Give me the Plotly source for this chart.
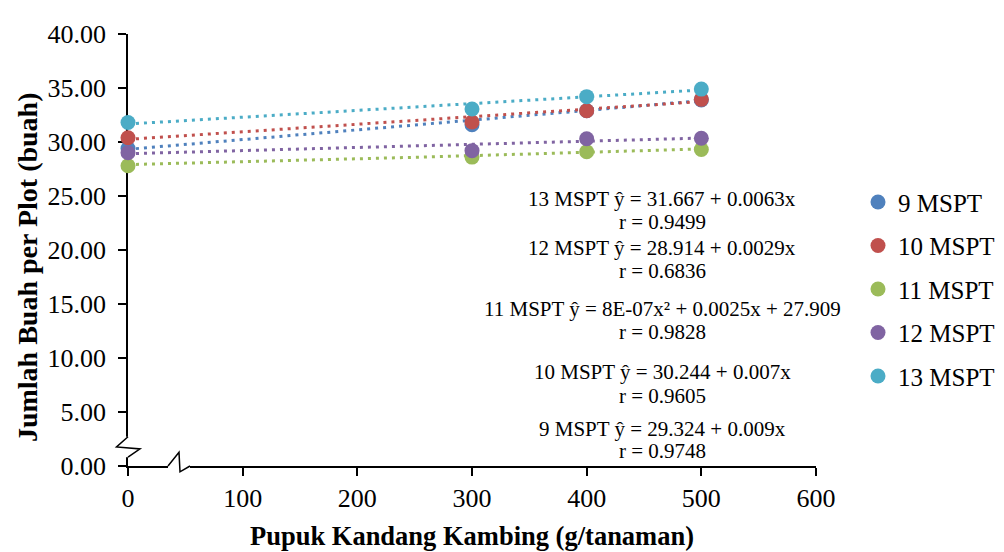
import numpy as np
import plotly.graph_objects as go

# ---- data ----
dosis = [0, 300, 400, 500]
series_names = ["9 MSPT", "10 MSPT", "11 MSPT", "12 MSPT", "13 MSPT"]
y_9 = [29.4, 31.6, 32.9, 33.9]
y_10 = [30.4, 31.85, 32.9, 33.95]
y_11 = [27.8, 28.6, 29.1, 29.3]
y_12 = [29.0, 29.2, 30.3, 30.35]
y_13 = [31.8, 33.05, 34.2, 34.9]
series_values = [y_9, y_10, y_11, y_12, y_13]
colors = ["#4F81BD", "#C0504D", "#9BBB59", "#8064A2", "#4BACC6"]

# trendline coefficients [a2, a1, a0]  (y = a2 x^2 + a1 x + a0)
coef_9 = [0.0, 0.009, 29.324]
coef_10 = [0.0, 0.007, 30.244]
coef_11 = [8e-07, 0.0025, 27.909]
coef_12 = [0.0, 0.0029, 28.914]
coef_13 = [0.0, 0.0063, 31.667]
coefs = [coef_9, coef_10, coef_11, coef_12, coef_13]

eq_lines = [
    "13 MSPT ŷ = 31.667 + 0.0063x", "r = 0.9499",
    "12 MSPT ŷ = 28.914 + 0.0029x", "r = 0.6836",
    "11 MSPT ŷ = 8E-07x² + 0.0025x + 27.909", "r = 0.9828",
    "10 MSPT ŷ = 30.244 + 0.007x", "r = 0.9605",
    "9 MSPT ŷ = 29.324 + 0.009x", "r = 0.9748",
]
eq_ypx = [192, 216, 242, 266, 305, 329, 370, 394, 428, 451]

x_ticks = [0, 100, 200, 300, 400, 500, 600]
y_ticks = [0, 5, 10, 15, 20, 25, 30, 35, 40]

FONT = "Liberation Serif, Times New Roman, serif"

# page offset (browser body margin) and plot-area geometry in page pixels
OFF = 8
W, H = 1004, 552
PL, PR, PT, PB = 128, 816, 23, 466          # plot area in page pixels
L, T = PL - OFF, PT - OFF
R, B = W - (PR - OFF), H - (PB - OFF)
PW, PH = PR - PL, PB - PT


def px2paper(px, py):
    return (px - PL) / PW, (PB - py) / PH


fig = go.Figure()

# trendlines
xs = np.linspace(min(dosis), max(dosis), 101)
for name, c, col in zip(series_names, coefs, colors):
    ys = c[0] * xs ** 2 + c[1] * xs + c[2]
    fig.add_trace(go.Scatter(
        x=xs, y=ys, mode="lines", showlegend=False, hoverinfo="skip",
        line=dict(color=col, width=3, dash="3px,5px"), cliponaxis=False,
    ))

# markers
for i, (name, vals, col) in enumerate(zip(series_names, series_values, colors)):
    fig.add_trace(go.Scatter(
        x=dosis, y=vals, mode="markers", name=name, legendgroup=f"g{i}",
        marker=dict(color=col, size=15), cliponaxis=False,
    ))

# equation annotations
ann = []
ax_c, _ = px2paper(662, 0)
for txt, ypx in zip(eq_lines, eq_ypx):
    _, yp = px2paper(0, ypx)
    ann.append(dict(text=txt, x=ax_c, y=yp, xref="paper", yref="paper",
                    xanchor="center", yanchor="middle", showarrow=False,
                    font=dict(family=FONT, size=21, color="black")))

# axis titles
tx, ty = px2paper(472, 538)
ann.append(dict(text="<b>Pupuk Kandang Kambing (g/tanaman)</b>", x=tx, y=ty,
                xref="paper", yref="paper", xanchor="center", yanchor="middle",
                showarrow=False, font=dict(family=FONT, size=26.5, color="black")))
tx, ty = px2paper(27, 262)
ann.append(dict(text="<b>Jumlah Buah per Plot (buah)</b>", x=tx, y=ty, textangle=-90,
                xref="paper", yref="paper", xanchor="center", yanchor="middle",
                showarrow=False, font=dict(family=FONT, size=28, color="black")))

# axis breaks (decorations)
shapes = []
_, y_top = px2paper(128, 436)
_, y_bot = px2paper(128, 457)
shapes.append(dict(type="rect", xref="paper", yref="paper", x0=-0.006, x1=0.006,
                   y0=y_bot, y1=y_top, fillcolor="white", line=dict(width=0),
                   layer="above"))
pts = [px2paper(128, 436), px2paper(116.5, 446.5), px2paper(140, 448.5),
       px2paper(128, 457)]
path = "M " + " L ".join(f"{a},{b}" for a, b in pts)
shapes.append(dict(type="path", xref="paper", yref="paper", path=path,
                   line=dict(color="black", width=1.5), layer="above"))
xa, _ = px2paper(168, 0)
xb, _ = px2paper(190, 0)
shapes.append(dict(type="rect", xref="paper", yref="paper", x0=xa, x1=xb,
                   y0=-0.008, y1=0.008, fillcolor="white", line=dict(width=0),
                   layer="above"))
pts = [px2paper(168, 466), px2paper(179, 452), px2paper(180, 472), px2paper(190, 466)]
path = "M " + " L ".join(f"{a},{b}" for a, b in pts)
shapes.append(dict(type="path", xref="paper", yref="paper", path=path,
                   line=dict(color="black", width=1.5), layer="above"))

lx, ly = px2paper(858, 172)

fig.update_layout(
    width=W, height=H,
    margin=dict(l=L, r=R, t=T, b=B, pad=0),
    paper_bgcolor="white", plot_bgcolor="white",
    font=dict(family=FONT, color="black"),
    showlegend=True,
    legend=dict(x=lx, y=ly, xanchor="left", yanchor="top",
                font=dict(family=FONT, size=25, color="black"),
                tracegroupgap=8, itemsizing="trace",
                bgcolor="rgba(0,0,0,0)"),
    annotations=ann,
    shapes=shapes,
    xaxis=dict(range=[0, 600], tickvals=x_ticks, ticktext=[str(v) for v in x_ticks],
               showgrid=False, zeroline=False, showline=True, linecolor="black",
               linewidth=1.5, ticks="outside", ticklen=8, tickwidth=1.5,
               tickcolor="black", tickfont=dict(family=FONT, size=26),
               layer="below traces"),
    yaxis=dict(range=[0, 40], tickvals=y_ticks, ticktext=[f"{v:.2f}" for v in y_ticks],
               showgrid=False, zeroline=False, showline=True, linecolor="black",
               linewidth=1.5, ticks="outside", ticklen=8, tickwidth=1.5,
               tickcolor="black", tickfont=dict(family=FONT, size=26),
               ticklabelstandoff=7, layer="below traces"),
)

fig.write_html("out.html")
